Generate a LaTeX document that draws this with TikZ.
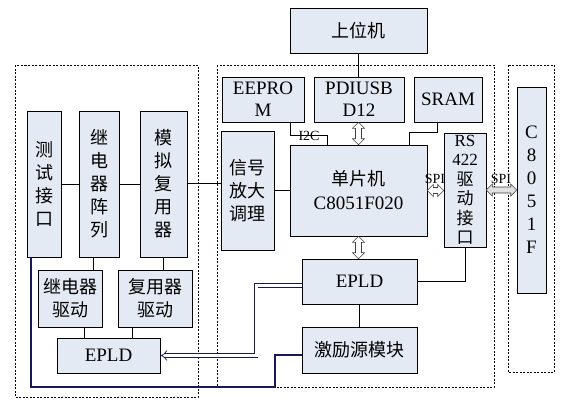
\documentclass[tikz,border=0pt]{standalone}
\usepackage{fontspec}
\setmainfont{Liberation Serif}
\newfontfamily\cjk{Noto Sans CJK SC}
\usetikzlibrary{arrows.meta,calc}
\definecolor{boxfill}{RGB}{228,234,244}
\definecolor{navy}{RGB}{25,25,90}
\tikzset{
  blk/.style={draw=black, fill=boxfill, line width=0.6pt, inner sep=0pt, align=center,
    font=\fontsize{18}{23}\selectfont},
  latin/.style={font=\fontsize{19}{22}\selectfont},
  rsfont/.style={font=\fontsize{17}{19.5}\selectfont},
  frame/.style={draw=black, dashed, dash pattern=on 2pt off 1.5pt, line width=0.6pt},
  conn/.style={draw=black, line width=0.7pt},
  hollowshape/.style={draw=black!75, line width=0.6pt, line join=miter},
  bus/.style={draw=navy, line width=0.7pt, double=white, double distance=3pt, -{Implies}},
  thick bus/.style={draw=navy, line width=2pt},
  lbl/.style={inner sep=0pt, font=\fontsize{14}{15}\selectfont}
}
% vertical hollow double arrow: #1 top point, #2 bottom point, #3 fill
\newcommand{\dblv}[3]{%
  \path[hollowshape, fill=#3] let \p1=(#1), \p2=(#2) in
    (\x1,\y1) -- (\x1+6pt,\y1-6pt) -- (\x1+3pt,\y1-6pt) -- (\x1+3pt,\y2+6pt) --
    (\x1+6pt,\y2+6pt) -- (\x1,\y2) -- (\x1-6pt,\y2+6pt) -- (\x1-3pt,\y2+6pt) --
    (\x1-3pt,\y1-6pt) -- (\x1-6pt,\y1-6pt) -- cycle;}
% horizontal hollow double arrow: #1 left point, #2 right point, #3 fill
\newcommand{\dblh}[3]{%
  \path[hollowshape, fill=#3] let \p1=(#1), \p2=(#2) in
    (\x1,\y1) -- (\x1+6pt,\y1+6pt) -- (\x1+6pt,\y1+3pt) -- (\x2-6pt,\y1+3pt) --
    (\x2-6pt,\y1+6pt) -- (\x2,\y1) -- (\x2-6pt,\y1-6pt) -- (\x2-6pt,\y1-3pt) --
    (\x1+6pt,\y1-3pt) -- (\x1+6pt,\y1-6pt) -- cycle;}
\begin{document}
\begin{tikzpicture}[x=1pt,y=-1pt]
\useasboundingbox (0,0) rectangle (565,405);
% dashed frames
\draw[frame] (15,65) rectangle (198,397);
\draw[frame] (217,65) rectangle (494,387);
\draw[frame] (508,65) rectangle (554,372);
% top
\node[blk, minimum width=137pt, minimum height=45pt] (upc) at (358.5,30.5) {\cjk 上位机};
% left group
\node[blk, minimum width=34pt, minimum height=146pt] (test) at (44,184) {\cjk 测\\\cjk 试\\\cjk 接\\\cjk 口};
\node[blk, minimum width=40pt, minimum height=146pt] (relay) at (99,184) {\cjk 继\\\cjk 电\\\cjk 器\\\cjk 阵\\\cjk 列};
\node[blk, minimum width=47pt, minimum height=146pt] (mux) at (163.5,184) {\cjk 模\\\cjk 拟\\\cjk 复\\\cjk 用\\\cjk 器};
\node[blk, minimum width=64pt, minimum height=57pt] (rdrv) at (70,298.5) {\cjk 继电器\\\cjk 驱动};
\node[blk, minimum width=74pt, minimum height=57pt] (mdrv) at (155,298.5) {\cjk 复用器\\\cjk 驱动};
\node[blk, latin, minimum width=103pt, minimum height=35pt] (eplda) at (108.5,355.5) {EPLD};
% middle group
\node[blk, latin, minimum width=82pt, minimum height=45pt] (eeprom) at (263,99.5) {EEPRO\\M};
\node[blk, latin, minimum width=90pt, minimum height=45pt] (pdiusb) at (359,99.5) {PDIUSB\\D12};
\node[blk, latin, minimum width=68pt, minimum height=45pt] (sram) at (448,99.5) {SRAM};
\node[blk, minimum width=53pt, minimum height=119pt] (sig) at (247.5,190.5) {\cjk 信号\\\cjk 放大\\\cjk 调理};
\node[blk, minimum width=137pt, minimum height=91pt] (mcu) at (358.5,190.5) {\cjk 单片机\\[1pt]{\fontsize{19}{22}\selectfont C8051F020}};
\node[blk, rsfont, minimum width=42pt, minimum height=114pt] (rs) at (465,190) {RS\\422\\{\cjk 驱}\\{\cjk 动}\\{\cjk 接}\\{\cjk 口}};
\node[blk, latin, minimum width=115pt, minimum height=45pt] (eplb) at (359.5,281.5) {EPLD};
\node[blk, minimum width=115pt, minimum height=46pt] (exc) at (359.5,350) {\cjk 激励源模块};
% right
\node[blk, latin, font=\fontsize{19}{23}\selectfont, minimum width=29pt, minimum height=206pt] (c8051) at (531.5,190) {C\\8\\0\\5\\1\\F};
% connections
\draw[conn] (upc.south) -- (upc.south |- pdiusb.north);
\draw[conn] (test) -- (relay);
\draw[conn] (relay) -- (mux);
\draw[conn] ([yshift=1pt]mux.east) -- ([yshift=1pt]mux.east -| sig.west);
\draw[conn] (sig) -- (mcu);
\draw[conn] ([xshift=-6pt]relay.south) -- ([xshift=-6pt]relay.south |- rdrv.north);
\draw[conn] (mux.south) -- (mux.south |- mdrv.north);
\draw[conn] ([xshift=14pt]rdrv.south) -- ([xshift=14pt]rdrv.south |- eplda.north);
\draw[conn] ([xshift=-23pt]mdrv.south) -- ([xshift=-23pt]mdrv.south |- eplda.north);
\coordinate (i2c) at (327,135);
\draw[conn] ([xshift=27pt]eeprom.south) |- (i2c) -- (i2c |- mcu.north);
\node[lbl] (i2clbl) at (309,136) {I2C};
\coordinate (sr) at (409,132);
\draw[conn] ([xshift=-11pt]sram.south) |- (sr) -- (sr |- mcu.north);
\draw[conn] (eplb.east) -| (rs.south);
\draw[conn] (eplb) -- (exc);
% hollow double arrows
\dblv{pdiusb.south -| mcu.north}{mcu.north}{white}
\dblv{mcu.south}{mcu.south |- eplb.north}{white}
\dblh{mcu.east}{mcu.east -| rs.west}{white}
\dblh{rs.east |- c8051.west}{c8051.west}{black!12}
\node[lbl] (spi1) at (435,179) {SPI};
\node[lbl] (spi2) at (501,179) {SPI};
% navy lines
\coordinate (b1) at (275,387);
\coordinate (b2) at (275,355);
\draw[thick bus] ([xshift=-13pt]test.south) |- (b1) -- (b2) -- (b2 -| exc.west);
\coordinate (d1) at (256,355.5);
\draw[bus] ([yshift=-4pt]eplb.west) -| (d1) -- (eplda.east);
\end{tikzpicture}
\end{document}
